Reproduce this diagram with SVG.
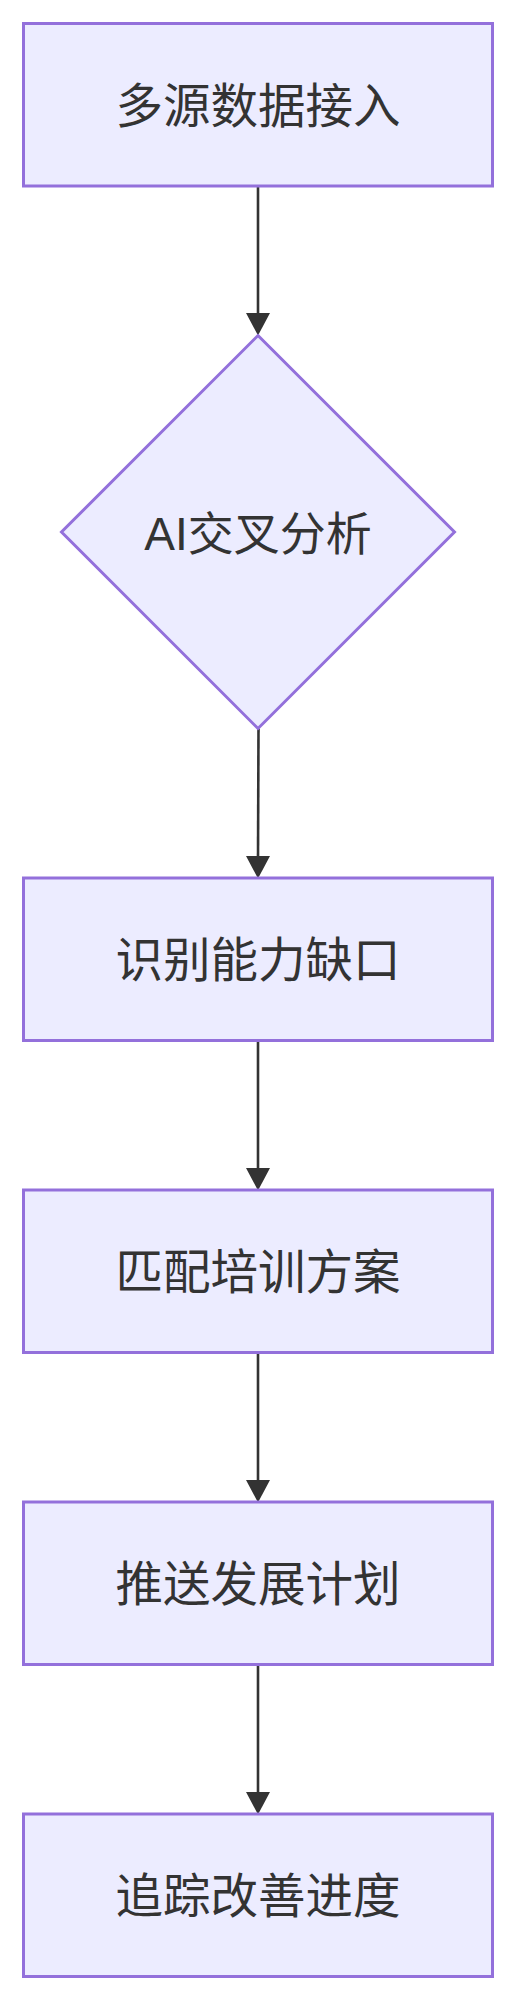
<svg xmlns="http://www.w3.org/2000/svg" width="516" height="2001" viewBox="0 0 516 2001">
<style>
.node rect, .node polygon { fill: #ECECFF; stroke: #9370DB; stroke-width: 3; }
.label { font-family: "Liberation Sans", "Noto Sans CJK SC", sans-serif; font-size: 47.5px; fill: #333333; text-anchor: middle; }
.label.ai { font-size: 46px; }
.edge { stroke: #333333; stroke-width: 2.6; fill: none; }
.head { fill: #333333; stroke: none; }
</style>
<rect width="516" height="2001" fill="#FFFFFF"/>
<g id="connectors">
  <line class="edge" x1="258" y1="186" x2="258" y2="316"/>
  <polygon class="head" points="246,313 270,313 258,335.5"/>
  <line class="edge" x1="258.5" y1="728.5" x2="258" y2="859"/>
  <polygon class="head" points="246,856 270,856 258,878.5"/>
  <line class="edge" x1="258" y1="1040.5" x2="258" y2="1171"/>
  <polygon class="head" points="246,1168 270,1168 258,1190.5"/>
  <line class="edge" x1="258" y1="1352.5" x2="258" y2="1483"/>
  <polygon class="head" points="246,1480 270,1480 258,1502.5"/>
  <line class="edge" x1="258" y1="1664.5" x2="258" y2="1795"/>
  <polygon class="head" points="246,1792 270,1792 258,1814.5"/>
</g>
<g id="node1" class="node">
  <rect x="23.5" y="23.5" width="469" height="162.5"/>
  <text class="label" x="258" y="122.5">多源数据接入</text>
</g>
<g id="node2" class="node">
  <polygon points="258,335.5 454.5,532 258,728.5 61.5,532"/>
  <text class="label ai" x="258" y="550">AI交叉分析</text>
</g>
<g id="node3" class="node">
  <rect x="23.5" y="878" width="469" height="162.5"/>
  <text class="label" x="258" y="977">识别能力缺口</text>
</g>
<g id="node4" class="node">
  <rect x="23.5" y="1190" width="469" height="162.5"/>
  <text class="label" x="258" y="1289">匹配培训方案</text>
</g>
<g id="node5" class="node">
  <rect x="23.5" y="1502" width="469" height="162.5"/>
  <text class="label" x="258" y="1601">推送发展计划</text>
</g>
<g id="node6" class="node">
  <rect x="23.5" y="1814" width="469" height="162.5"/>
  <text class="label" x="258" y="1913">追踪改善进度</text>
</g>
</svg>
